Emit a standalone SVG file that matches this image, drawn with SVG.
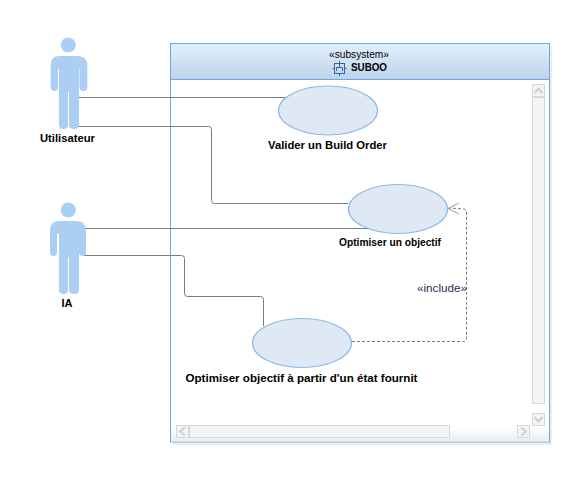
<svg xmlns="http://www.w3.org/2000/svg" width="583" height="495" viewBox="0 0 583 495">
<style>
text{font-family:"Liberation Sans",Arial,sans-serif;font-size:11px;fill:#000;text-anchor:middle}
.b{font-weight:bold}
.uc{fill:#dfe9f5;stroke:#8db8e6;stroke-width:1.2}
.actor{fill:#abcff3}
.c{fill:none;stroke:#7a7a7a;stroke-width:1}
.d{fill:none;stroke:#7a7a7a;stroke-width:1;stroke-dasharray:3 2}
.sb{fill:#f4f4f4;stroke:#d8d8d8;stroke-width:1}
.ar{fill:none;stroke:#d0d0d0;stroke-width:2}
</style>
<defs>
<linearGradient id="h" x1="0" y1="0" x2="0" y2="1"><stop offset="0" stop-color="#e2f0fe"/><stop offset="1" stop-color="#bcd4ea"/></linearGradient>
<linearGradient id="s" x1="0" y1="0" x2="0" y2="1"><stop offset="0" stop-color="#fff"/><stop offset="1" stop-color="#ececec"/></linearGradient>
</defs>
<g id="subsystem">
<rect x="173" y="46" width="379" height="399" fill="#dcdcdc" opacity=".5"/>
<rect x="170.500" y="43.500" width="379" height="398.500" fill="#fff" stroke="#6fa5e0"/>
<rect x="171" y="44" width="378" height="35" fill="url(#h)"/>
<line x1="171" y1="79.500" x2="549" y2="79.500" stroke="#6fa5e0"/>
<rect x="171" y="428" width="378" height="13.500" fill="url(#s)"/>
<text x="359" y="58" textLength="60" lengthAdjust="spacingAndGlyphs">«subsystem»</text>
<text x="369" y="71" class="b" textLength="36" lengthAdjust="spacingAndGlyphs">SUBOO</text>
<g fill="none" stroke="#3f5f9a" stroke-width="1">
<rect x="334.500" y="63.500" width="10" height="10"/>
<path d="M339.500 61V63.500M339.500 73.500V76M332.500 68.500H334.500M344.500 68.500H346.500"/>
<path d="M336.500 71V67.500H342.500V71M339.500 63.500V67.500" />
</g>
<g id="scrollbars">
<rect class="sb" x="532.500" y="84.500" width="12" height="12"/>
<rect class="sb" x="532.500" y="97.500" width="12" height="306"/>
<rect class="sb" x="532.500" y="413.500" width="12" height="12"/>
<rect class="sb" x="176.500" y="425.500" width="12" height="12"/>
<rect class="sb" x="189.500" y="425.500" width="260" height="12"/>
<rect class="sb" x="517.500" y="425.500" width="12" height="12"/>
<path class="ar" d="M534.500 93L538.500 88.500L542.500 93M534.500 417L538.500 421.500L542.500 417M185 427.500L180 431.500L185 435.500M521 427.500L526 431.500L521 435.500"/>
</g>
</g>
<g id="connectors">
<path class="c" d="M78.500 97.500H288"/>
<path class="c" d="M78 126.500H208.500Q211.500 126.500 211.500 129.500V200.500Q211.500 203.500 214.500 203.500H348"/>
<path class="c" d="M85 228.500H372"/>
<path class="c" d="M84 255.500H181.500Q184.500 255.500 184.500 258.500V293.500Q184.500 296.500 187.500 296.500H260.500Q263.500 296.500 263.500 299.500V326"/>
<path class="d" d="M352 341.500H463.500Q466.500 341.500 466.500 338.500V212Q466.500 209 463.500 209L449 208"/>
<path d="M459 203L448 208.500L459 214" fill="none" stroke="#9a9a9a"/>
<text x="442" y="291.500" style="fill:#1a3050" textLength="50" lengthAdjust="spacingAndGlyphs">«include»</text>
</g>
<g id="actor-utilisateur">
<g class="actor">
<circle cx="68.300" cy="45" r="7.600"/>
<path d="M59 56H78Q87.300 56 87.300 66V87Q87.300 91 83.500 91T79.500 87V69H79V125Q79 129 74 129T69 125V92H68V125Q68 129 63.500 129T59 125V69H58V87Q58 91 54.500 91T50.700 87V66Q50.700 56 59 56Z"/>
</g>
<text x="67.500" y="142" class="b" textLength="55" lengthAdjust="spacingAndGlyphs">Utilisateur</text>
</g>
<g id="actor-ia">
<g class="actor">
<circle cx="68.300" cy="210" r="7.600"/>
<path d="M59 221H77Q86 221 86 231V252Q86 256 82.500 256T79 252V234H79V290Q79 294 74 294T69 290V257H68V290Q68 294 63.500 294T59 290V234H57V252Q57 256 53.500 256T50 252V231Q50 221 59 221Z"/>
</g>
<text x="67" y="307" class="b">IA</text>
</g>
<g id="uc-valider">
<ellipse class="uc" cx="328" cy="110.500" rx="49.500" ry="24.500"/>
<text x="327.500" y="149" class="b" textLength="119" lengthAdjust="spacingAndGlyphs">Valider un Build Order</text>
</g>
<g id="uc-optimiser">
<ellipse class="uc" cx="398" cy="209" rx="49.500" ry="24.500"/>
<text x="390" y="246" class="b" textLength="102" lengthAdjust="spacingAndGlyphs">Optimiser un objectif</text>
</g>
<g id="uc-etat">
<ellipse class="uc" cx="302" cy="343" rx="49.500" ry="24.500"/>
<text x="301.500" y="382" class="b" textLength="232" lengthAdjust="spacingAndGlyphs">Optimiser objectif à partir d'un état fournit</text>
</g>
</svg>
